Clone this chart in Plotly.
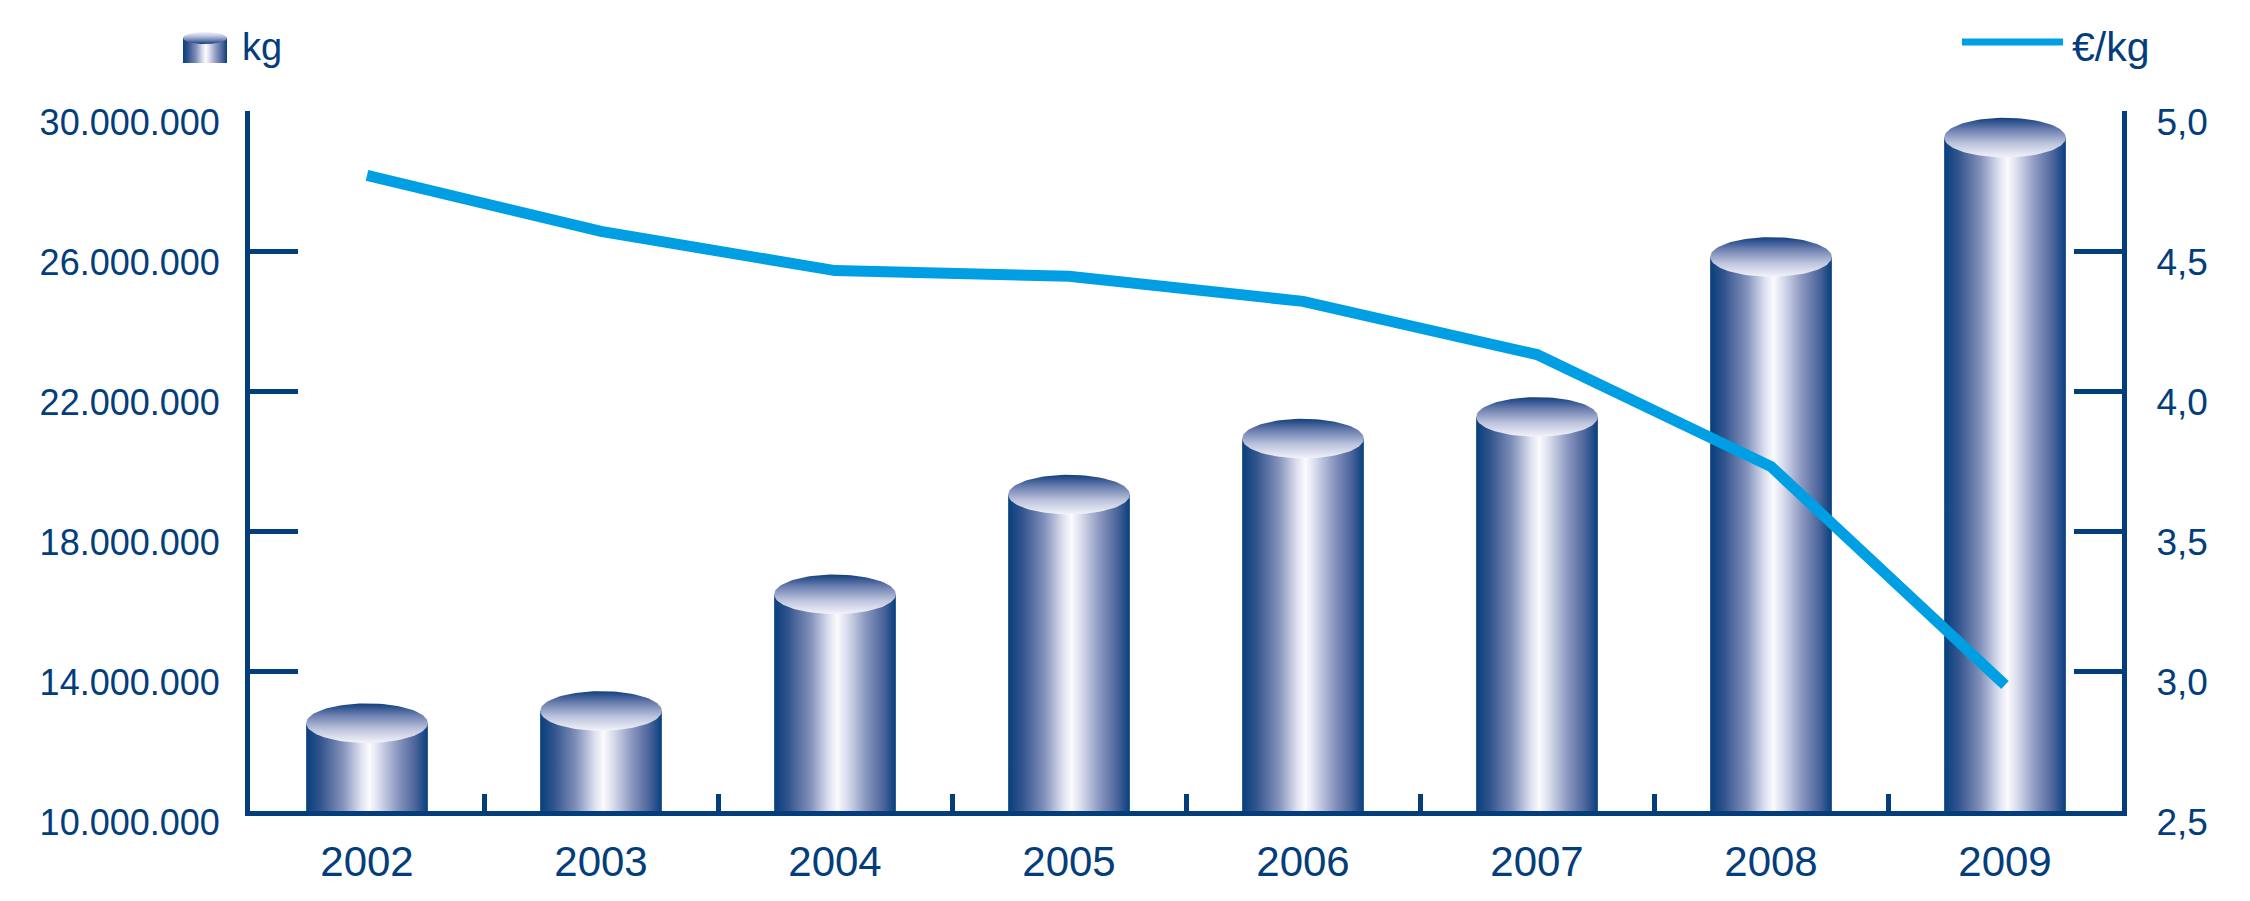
import numpy as np
import plotly.graph_objects as go

# ---------------- data ----------------
years = ["2002", "2003", "2004", "2005", "2006", "2007", "2008", "2009"]
kg_values = [12.51e6, 12.86e6, 16.19e6, 19.04e6, 20.64e6, 21.26e6, 25.83e6, 29.24e6]
eur_per_kg = [4.77, 4.57, 4.43, 4.41, 4.32, 4.13, 3.73, 2.95]
kg_ticks = [10e6, 14e6, 18e6, 22e6, 26e6, 30e6]
price_ticks = [2.5, 3.0, 3.5, 4.0, 4.5, 5.0]
legend_labels = ["kg", "€/kg"]

# ---------------- style ----------------
NAVY = "#033d7b"
LINE_BLUE = "#009fe3"
FONT = "Liberation Sans, Arial, Helvetica, sans-serif"
W, H = 2250, 901
PLOT_L, PLOT_R, PLOT_T, PLOT_B = 250, 2122, 111, 811
BAR_HALF = 0.26          # half bar width in category units
CAP_HALF_H = 0.565e6     # half height of cylinder cap in kg units

body_scale = [
    [0.0, "#063f7c"], [0.12, "#34558e"], [0.30, "#8391bb"], [0.45, "#dde1ef"],
    [0.52, "#fbfbfe"], [0.60, "#d8dcec"], [0.75, "#8c98c0"], [0.90, "#4a639a"],
    [1.0, "#063f7c"],
]
cap_scale_up = [[0.0, "#f2f3fa"], [0.35, "#bcc3dc"], [0.7, "#6c7fb0"], [1.0, "#123f7e"]]
cap_scale_down = [[1 - p, c] for p, c in reversed(cap_scale_up)]

fig = go.Figure()
base = kg_ticks[0]
t = np.linspace(0, 2 * np.pi, 97)
xs = np.arange(len(years))

for i, v in zip(xs, kg_values):
    fig.add_trace(go.Scatter(
        x=[i - BAR_HALF, i + BAR_HALF, i + BAR_HALF, i - BAR_HALF, i - BAR_HALF],
        y=[base, base, v, v, base],
        mode="lines", line=dict(width=0, color="rgba(0,0,0,0)"),
        fill="toself", fillgradient=dict(type="horizontal", colorscale=body_scale),
        hoverinfo="skip", xaxis="x", yaxis="y"))
    fig.add_trace(go.Scatter(
        x=i + BAR_HALF * np.cos(t), y=v + CAP_HALF_H * np.sin(t),
        mode="lines", line=dict(width=0, color="rgba(0,0,0,0)"),
        fill="toself", fillgradient=dict(type="vertical", colorscale=cap_scale_up),
        hoverinfo="skip", xaxis="x", yaxis="y"))

fig.add_trace(go.Scatter(
    x=xs, y=eur_per_kg, mode="lines",
    line=dict(color=LINE_BLUE, width=11),
    xaxis="x", yaxis="y2"))

# ---------------- legend (drawn in a pixel-space helper subplot) ----------------
ix0, ix1, itop, ibot = 183, 227, 32, 63
icx, icy, ihw, ihh = (ix0 + ix1) / 2, 38, (ix1 - ix0) / 2, 6
fig.add_trace(go.Scatter(
    x=[ix0, ix1, ix1, ix0, ix0], y=[ibot, ibot, icy, icy, ibot],
    mode="lines", line=dict(width=0, color="rgba(0,0,0,0)"),
    fill="toself", fillgradient=dict(type="horizontal", colorscale=body_scale),
    hoverinfo="skip", xaxis="x3", yaxis="y3"))
fig.add_trace(go.Scatter(
    x=icx + ihw * np.cos(t), y=icy + ihh * np.sin(t),
    mode="lines", line=dict(width=0, color="rgba(0,0,0,0)"),
    fill="toself", fillgradient=dict(type="vertical", colorscale=cap_scale_down),
    hoverinfo="skip", xaxis="x3", yaxis="y3"))
fig.add_trace(go.Scatter(
    x=[1962, 2063], y=[42, 42], mode="lines",
    line=dict(color=LINE_BLUE, width=7), hoverinfo="skip", xaxis="x3", yaxis="y3"))

fig.add_annotation(x=240, y=47, xref="x3", yref="y3", text=legend_labels[0],
                   showarrow=False, xanchor="left", yanchor="middle",
                   font=dict(size=38, color=NAVY, family=FONT))
fig.add_annotation(x=2070, y=47, xref="x3", yref="y3", text=legend_labels[1],
                   showarrow=False, xanchor="left", yanchor="middle",
                   font=dict(size=41, color=NAVY, family=FONT))

axis_common = dict(showgrid=False, zeroline=False, showline=True,
                   linewidth=5, linecolor=NAVY, automargin=False)

fig.update_layout(
    template="none",
    width=W, height=H, margin=dict(l=0, r=0, t=0, b=0, pad=0, autoexpand=False),
    paper_bgcolor="white", plot_bgcolor="rgba(0,0,0,0)",
    showlegend=False, separators=",.",
    font=dict(family=FONT, color=NAVY),
    xaxis=dict(
        **axis_common,
        domain=[PLOT_L / W, PLOT_R / W], range=[-0.5, len(years) - 0.5],
        tickmode="array", tickvals=list(xs), ticktext=years, ticks="",
        tickfont=dict(size=42, color=NAVY, family=FONT), ticklabelstandoff=10,
        minor=dict(tickmode="array", tickvals=[i + 0.5 for i in xs[:-1]],
                   ticks="inside", ticklen=17, tickwidth=5, tickcolor=NAVY,
                   showgrid=False),
        anchor="y"),
    yaxis=dict(
        **axis_common,
        domain=[(H - PLOT_B) / H, (H - PLOT_T) / H],
        range=[kg_ticks[0], kg_ticks[-1]], tickmode="array", tickvals=kg_ticks,
        tickformat=",d", ticks="inside", ticklen=48, tickwidth=5, tickcolor=NAVY,
        tickfont=dict(size=36, color=NAVY, family=FONT),
        ticklabelshift=11, ticklabelstandoff=18, anchor="x"),
    yaxis2=dict(
        **axis_common,
        overlaying="y", side="right", anchor="x",
        range=[price_ticks[0], price_ticks[-1]], tickmode="array",
        tickvals=price_ticks, tickformat=".1f", ticks="inside", ticklen=48,
        tickwidth=5, tickcolor=NAVY,
        tickfont=dict(size=37, color=NAVY, family=FONT),
        ticklabelshift=11, ticklabelstandoff=22),
    xaxis3=dict(domain=[0, 1], range=[0, W], visible=False, anchor="y3",
                fixedrange=True, automargin=False),
    yaxis3=dict(domain=[0, 1], range=[H, 0], visible=False, anchor="x3",
                fixedrange=True, automargin=False),
)

fig.write_html("out.html",
               config={"displayModeBar": False},
               post_script="document.body.style.margin='0px';"
                           "document.body.style.padding='0px';"
                           "document.body.style.overflow='hidden';")
